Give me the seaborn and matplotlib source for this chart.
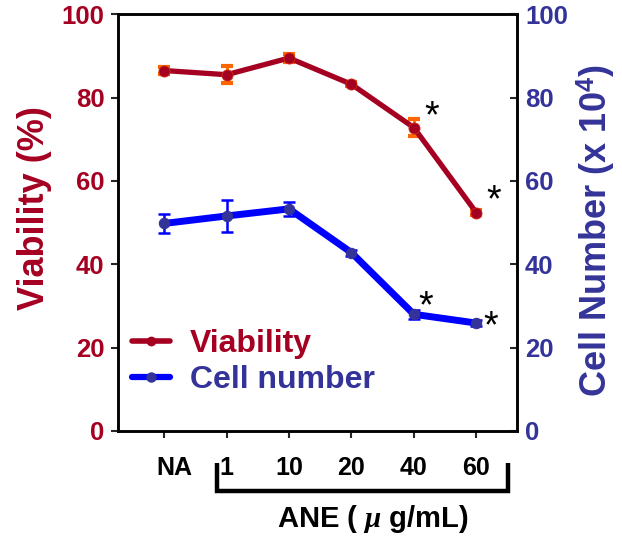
import numpy as np
import pandas as pd
import matplotlib
matplotlib.use("Agg")
import matplotlib.pyplot as plt
import matplotlib.transforms as mtransforms
from matplotlib.lines import Line2D
import seaborn as sns

# ---- data ----
doses = ["NA", "1", "10", "20", "40", "60"]
viability = [86.5, 85.5, 89.5, 83.2, 72.8, 52.4]
viability_err = [0.8, 2.0, 1.0, 0.5, 2.1, 0.6]
cell_number = [49.8, 51.6, 53.3, 42.8, 28.0, 25.9]
cell_err = [2.3, 3.9, 1.7, 0.7, 1.1, 0.8]
sig_viability = [False, False, False, False, True, True]
sig_cell = [False, False, False, False, True, True]
yticks = [0, 20, 40, 60, 80, 100]

RED = "#A50021"
ORANGE = "#FF6600"
BLUE = "#0000FF"
NAVY = "#333399"

sns.set_style("white")
plt.rcParams["font.family"] = ["Liberation Sans", "DejaVu Sans"]
plt.rcParams["font.weight"] = "bold"
plt.rcParams["mathtext.fontset"] = "custom"
plt.rcParams["mathtext.rm"] = "Liberation Sans:bold"
plt.rcParams["mathtext.bf"] = "Liberation Sans:bold"
plt.rcParams["mathtext.it"] = "Liberation Serif:italic"

df = pd.DataFrame({"pos": np.arange(len(doses)), "dose": doses,
                   "viability": viability, "cell": cell_number})

fig = plt.figure(figsize=(6.22, 5.45), dpi=100)
ax = fig.add_axes([0.190, 0.2092, 0.6407, 0.7646])
ax2 = ax.twinx()

# error bars (under lines)
ax.errorbar(df["pos"], df["viability"], yerr=viability_err, fmt="none",
            ecolor=ORANGE, elinewidth=2, capsize=4, capthick=3, zorder=1)
ax2.errorbar(df["pos"], df["cell"], yerr=cell_err, fmt="none",
             ecolor=BLUE, elinewidth=1.8, capsize=4, capthick=1.8, zorder=1)

sns.lineplot(data=df, x="pos", y="viability", ax=ax, color=RED, linewidth=3.8,
             marker="o", markersize=8, markerfacecolor=RED, markeredgecolor="#D03010",
             markeredgewidth=0.6, legend=False, zorder=3)
sns.lineplot(data=df, x="pos", y="cell", ax=ax2, color=BLUE, linewidth=5,
             marker="o", markersize=7.5, markerfacecolor=NAVY, markeredgecolor=NAVY,
             legend=False, zorder=3)

xlim = (-0.737, 5.647)
for a in (ax, ax2):
    a.set_xlim(*xlim)
    a.set_ylim(0, 100)
    a.set_yticks(yticks)
    for s in a.spines.values():
        s.set_visible(True)
        s.set_color("black")
        s.set_linewidth(1.8)

ax.set_xticks(df["pos"])
ax.set_xticklabels(doses, fontsize=18, fontweight="bold", color="black")
ax.tick_params(axis="x", direction="out", length=5, width=1.5, pad=13, bottom=True)
ax.tick_params(axis="y", direction="out", length=5, width=1.5, pad=5, left=True,
               labelsize=18.5, labelcolor=RED)
for t in ax.get_yticklabels():
    t.set_fontweight("bold")
ax2.tick_params(axis="y", direction="in", length=5, width=1.5, pad=6, right=True,
                labelsize=18.5, labelcolor=NAVY)
for t in ax2.get_yticklabels():
    t.set_fontweight("bold")
ax.set_xlabel("")
ax2.set_xlabel("")

# shift "NA" label slightly to the right
lbl = ax.get_xticklabels()[0]
lbl.set_transform(lbl.get_transform() + mtransforms.ScaledTranslation(10 / 100, 0, fig.dpi_scale_trans))

ax.set_ylabel("Viability (%)", fontsize=26, fontweight="bold", color=RED)
ax.yaxis.set_label_coords(-0.165, 0.535)
ax2.set_ylabel(r"Cell Number (x 10$^{4}$)", fontsize=26, fontweight="bold", color=NAVY)
ax2.yaxis.set_label_coords(1.146, 0.481)

# significance asterisks (offsets in points relative to the data points)
vis_off = [(13, 15), (12.7, 16)]
cell_off = [(8.6, 13), (10, 4.3)]
glyph_c = 14.9
k = 0
for i, s in enumerate(sig_viability):
    if s:
        dx, dy = vis_off[k]; k += 1
        ax.annotate("*", xy=(i, viability[i]), xytext=(dx, dy - glyph_c),
                    textcoords="offset points", ha="center", va="baseline",
                    fontsize=27, fontweight="normal", color="black", zorder=5)
k = 0
for i, s in enumerate(sig_cell):
    if s:
        dx, dy = cell_off[k]; k += 1
        ax2.annotate("*", xy=(i, cell_number[i]), xytext=(dx, dy - glyph_c),
                     textcoords="offset points", ha="center", va="baseline",
                     fontsize=27, fontweight="normal", color="black", zorder=5)

# legend
handles = [Line2D([], [], color=RED, linewidth=4, marker="o", markersize=6,
                  markerfacecolor=RED, markeredgecolor=RED),
           Line2D([], [], color=BLUE, linewidth=4.5, marker="o", markersize=6.5,
                  markerfacecolor=NAVY, markeredgecolor=NAVY)]
leg = ax2.legend(handles, ["Viability", "Cell number"], loc="center left",
                 bbox_to_anchor=(0.034, 0.165), frameon=False, borderaxespad=0,
                 borderpad=0, handlelength=1.2, handletextpad=0.62, labelspacing=0.2,
                 prop={"size": 23, "weight": "bold"})
for txt, c in zip(leg.get_texts(), [RED, NAVY]):
    txt.set_color(c)

# bracket under the ANE doses
trans = mtransforms.blended_transform_factory(ax.transData, ax.transAxes)
xb0, xb1 = 0.84, 5.51
yb0, yb1 = -0.0768, -0.144
ax.plot([xb0, xb0, xb1, xb1], [yb0, yb1, yb1, yb0], transform=trans, color="black",
        linewidth=3.2, clip_on=False, solid_joinstyle="miter", solid_capstyle="butt")
ax.text(3.34, -0.212, r"ANE ( $\mu$ g/mL)", transform=trans, ha="center", va="center",
        fontsize=21, fontweight="bold", color="black")

fig.savefig("out.png", dpi=100)
